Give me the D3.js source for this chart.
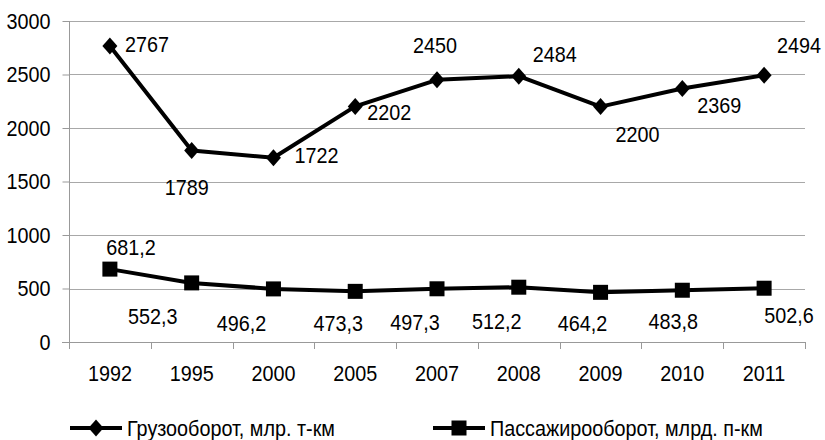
<!DOCTYPE html>
<html><head><meta charset="utf-8">
<script src="https://cdn.jsdelivr.net/npm/d3@7"></script>
<style>
body{margin:0;background:#fff;}
svg text{font-family:"Liberation Sans",Arial,sans-serif;fill:#000;}
</style></head>
<body><svg id="chart" width="825" height="440"></svg>
<script>
const years = ["1992","1995","2000","2005","2007","2008","2009","2010","2011"];
const freight = [2767,1789,1722,2202,2450,2484,2200,2369,2494];
const passenger = [681.2,552.3,496.2,473.3,497.3,512.2,464.2,483.8,502.6];
const freightLabels = ["2767","1789","1722","2202","2450","2484","2200","2369","2494"];
const passengerLabels = ["681,2","552,3","496,2","473,3","497,3","512,2","464,2","483,8","502,6"];
const yTicks = [0,500,1000,1500,2000,2500,3000];
const seriesNames = ["Грузооборот, млр. т-км","Пассажирооборот, млрд. п-км"];

// label placement offsets (layout only)
const freightOffsets = [[37,-2],[-5,37],[43,-2],[34,6],[-2,-35],[36,-22],[37,28],[37,17],[35,-30]];
const passengerOffsets = [[21,-22],[-39,33],[-32,34],[-17,32],[-22,34],[-22,34],[-18,31],[-9,31],[25,27]];

const svg = d3.select("#chart");
const L=69, R=805, T=21, B=342;
const fs = 22, sx = 0.9;

const x = d3.scaleBand().domain(years).range([L,R]);
const y = d3.scaleLinear().domain([0,3000]).range([B,T]);

function addText(sel, px, py, str, anchor){
  return sel.append("text").attr("transform",`translate(${px},${py}) scale(${sx},1)`)
    .attr("dy","0.35em").attr("text-anchor",anchor||"middle").attr("font-size",fs).text(str);
}

// gridlines
svg.append("g").selectAll("line").data(yTicks.filter(d=>d>0)).join("line")
  .attr("x1",L).attr("x2",R).attr("y1",d=>Math.round(y(d))+0.5).attr("y2",d=>Math.round(y(d))+0.5)
  .attr("stroke","#a8a8a8").attr("stroke-width",1);

// y axis
const yAxis = svg.append("g").attr("transform",`translate(${L+0.5},0)`)
  .call(d3.axisLeft(y).tickValues(yTicks).tickSize(7).tickPadding(12).tickFormat(d3.format("d")));
yAxis.select(".domain").attr("stroke","#999").attr("d",`M0,${T}V${B}`);
yAxis.selectAll(".tick line").attr("stroke","#999");
yAxis.selectAll(".tick text").attr("font-size",fs).attr("font-family",null).attr("fill","#000")
  .attr("x",-19/sx).attr("transform",`scale(${sx},1)`);

// x axis
const xAxis = svg.append("g").attr("transform",`translate(0,${B+0.5})`)
  .call(d3.axisBottom(x).tickSize(0).tickPadding(23));
xAxis.select(".domain").attr("stroke","#999").attr("d",`M${L-7},0H${R}`);
xAxis.selectAll(".tick text").attr("font-size",fs).attr("font-family",null).attr("fill","#000")
  .attr("transform",`scale(${sx},1)`);
// band-boundary ticks
svg.append("g").selectAll("line").data(years.map((d,i)=>i).concat([years.length])).join("line")
  .attr("x1",i=>Math.round(L + i*x.step())+0.5).attr("x2",i=>Math.round(L + i*x.step())+0.5)
  .attr("y1",B).attr("y2",B+7).attr("stroke","#999");

const cx = d => x(d)+x.bandwidth()/2;
const line = d3.line().x((d,i)=>cx(years[i])).y(d=>y(d));

function diamond(px,py){ return `M${px},${py-8.5}L${px+7.5},${py}L${px},${py+8.5}L${px-7.5},${py}Z`; }

function drawSeries(vals, labels, offsets, shape){
  svg.append("path").datum(vals).attr("d",line).attr("fill","none")
    .attr("stroke","#000").attr("stroke-width",4).attr("stroke-linejoin","round");
  const g = svg.append("g");
  vals.forEach((v,i)=>{
    const px=cx(years[i]), py=y(v);
    if(shape==="diamond"){
      g.append("path").attr("d",diamond(px,py)).attr("fill","#000");
    } else {
      g.append("rect").attr("x",px-7.5).attr("y",py-7.5).attr("width",15).attr("height",15).attr("fill","#000");
    }
    addText(svg, px+offsets[i][0], py+offsets[i][1], labels[i]);
  });
}
drawSeries(freight, freightLabels, freightOffsets, "diamond");
drawSeries(passenger, passengerLabels, passengerOffsets, "square");

// legend
const legendY = 428;
const legendItems = [{x0:70,shape:"diamond"},{x0:433,shape:"square"}];
legendItems.forEach((it,i)=>{
  const g = svg.append("g");
  g.append("line").attr("x1",it.x0).attr("x2",it.x0+52).attr("y1",legendY).attr("y2",legendY)
    .attr("stroke","#000").attr("stroke-width",4);
  const mx = it.x0+26;
  if(it.shape==="diamond"){
    g.append("path").attr("d",diamond(mx,legendY));
  } else {
    g.append("rect").attr("x",mx-7.5).attr("y",legendY-7.5).attr("width",15).attr("height",15);
  }
  addText(g, it.x0+57, legendY, seriesNames[i], "start");
});
</script></body></html>
